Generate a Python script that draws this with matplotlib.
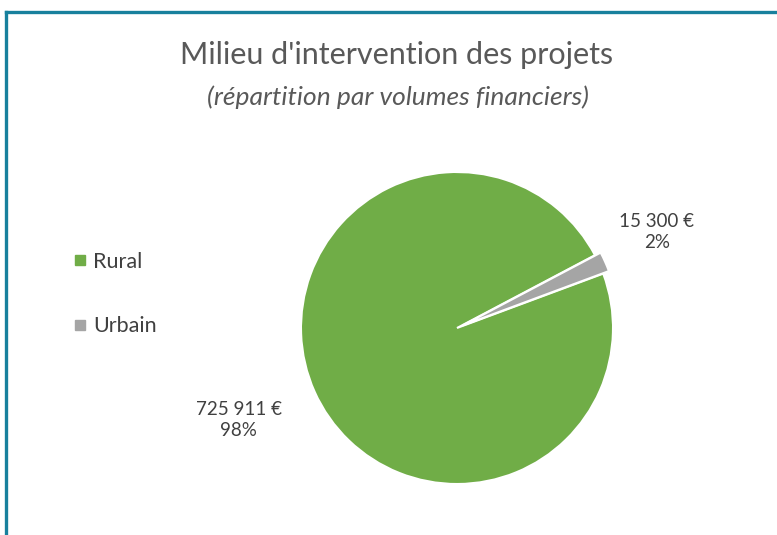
import matplotlib
matplotlib.use("Agg")
import matplotlib.pyplot as plt
from matplotlib.lines import Line2D

categories = ["Rural", "Urbain"]
values = [725911, 15300]
value_labels = ["725 911 €", "15 300 €"]
colors = ["#70AD47", "#A5A5A5"]

W, H = 777, 535
fig = plt.figure(figsize=(W / 100, H / 100), dpi=100)
fig.patch.set_facecolor("white")

# frame border (top and left)
border = "#18809D"
fig.add_artist(Line2D([6 / W, 1], [1 - 12 / H, 1 - 12 / H], color=border, lw=2.4, transform=fig.transFigure))
fig.add_artist(Line2D([6 / W, 6 / W], [1 - 12 / H, 0], color=border, lw=2.4, transform=fig.transFigure))

# pie axes: center (457, 328) px, radius 156 px
cx, cy, r = 457, 328, 156
ax = fig.add_axes([(cx - r) / W, (H - cy - r) / H, 2 * r / W, 2 * r / H])
total = sum(values)
wedges, _ = ax.pie(values, colors=colors, startangle=20.4, counterclock=False,
                   explode=[0, 0.04], wedgeprops=dict(edgecolor="white", linewidth=1.5))
ax.set_xlim(-1, 1)
ax.set_ylim(-1, 1)
ax.set_aspect("equal")
ax.axis("off")

pcts = [round(v / total * 100) for v in values]
label_pos = [(-1.40, -0.59), (1.28, 0.615)]
for (x, y), vl, p in zip(label_pos, value_labels, pcts):
    ax.text(x, y, f"{vl}\n{p}%", ha="center", va="center", fontsize=13.5,
            color="#404040", family="Lato", linespacing=1.25, clip_on=False)

# titles
fig.text(397 / W, 1 - 55 / H, "Milieu d'intervention des projets", ha="center", va="center",
         fontsize=22, color="#595959", family="Lato")
fig.text(398 / W, 1 - 97 / H, "(répartition par volumes financiers)", ha="center", va="center",
         fontsize=19, color="#595959", family="Lato", style="italic")

# legend
handles = [Line2D([], [], marker="s", linestyle="none", markersize=7, color=c) for c in colors]
leg = fig.legend(handles, categories, loc="center left", bbox_to_anchor=(52 / W, 1 - 294 / H),
                 frameon=False, labelspacing=2.05, handlelength=0.8, handletextpad=0.2,
                 prop=dict(family="Lato", size=15.5))
for t in leg.get_texts():
    t.set_color("#404040")

fig.savefig("out.png", dpi=100, facecolor="white")
